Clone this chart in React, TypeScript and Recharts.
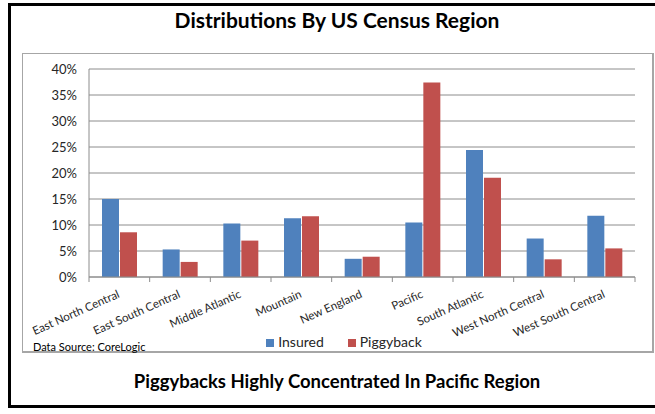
import React from "react";
import {
  BarChart,
  Bar,
  XAxis,
  YAxis,
  CartesianGrid,
  Legend,
} from "recharts";

const regions = [
  "East North Central",
  "East South Central",
  "Middle Atlantic",
  "Mountain",
  "New England",
  "Pacific",
  "South Atlantic",
  "West North Central",
  "West South Central",
];
const insured = [15.0, 5.3, 10.3, 11.3, 3.5, 10.5, 24.4, 7.4, 11.8];
const piggyback = [8.6, 2.9, 7.0, 11.7, 3.9, 37.4, 19.1, 3.4, 5.5];
const yTicks = [0, 5, 10, 15, 20, 25, 30, 35, 40];

const data = regions.map((region, i) => ({
  region,
  Insured: insured[i],
  Piggyback: piggyback[i],
}));

const FONT = "Lato, 'Open Sans', sans-serif";

function RegionTick(props: any) {
  const { x, y, payload, index, visibleTicksCount } = props;
  const half = payload && payload.offset ? payload.offset : 30.3;
  return (
    <g>
      <line x1={x - half} y1={y} x2={x - half} y2={y + 5} stroke="#8c8c8c" />
      {index === visibleTicksCount - 1 && (
        <line x1={x + half} y1={y} x2={x + half} y2={y + 5} stroke="#8c8c8c" />
      )}
      <g transform={`translate(${x + 1},${y + 20})`}>
        <text
          x={0}
          y={0}
          textAnchor="end"
          fill="#262626"
          fontSize={11.5}
          fontFamily={FONT}
          transform="rotate(-24)"
        >
          {payload.value}
        </text>
      </g>
    </g>
  );
}

export default function App() {
  return (
    <div
      style={{
        position: "absolute",
        left: 0,
        top: 0,
        width: 655,
        height: 414,
        overflow: "hidden",
        background: "#fff",
        fontFamily: FONT,
      }}
    >
      <div
        style={{
          position: "absolute",
          left: 8,
          top: 3,
          width: 680,
          height: 405,
          boxSizing: "border-box",
          border: "3px solid #000",
        }}
      />
      <div
        style={{
          position: "absolute",
          left: 8,
          width: 658,
          top: 7,
          textAlign: "center",
          fontWeight: 700,
          fontSize: 21,
          color: "#000",
        }}
      >
        Distributions By US Census Region
      </div>
      <div
        style={{
          position: "absolute",
          left: 22,
          top: 53,
          width: 632,
          height: 300,
          boxSizing: "border-box",
          border: "1px solid #a6a6a6",
          borderRightWidth: 2,
          borderBottomWidth: 2,
        }}
      >
        <BarChart
          width={630}
          height={298}
          data={data}
          margin={{ top: 15, right: 18, left: 0, bottom: 0 }}
          barSize={17}
          barGap={1}
        >
          <CartesianGrid vertical={false} stroke="#8c8c8c" />
          <XAxis
            dataKey="region"
            height={75}
            interval={0}
            tickLine={false}
            tickSize={0}
            tickMargin={0}
            stroke="#8c8c8c"
            tick={<RegionTick />}
          />
          <YAxis
            width={66}
            domain={[0, 40]}
            ticks={yTicks}
            tickFormatter={(v) => `${v}%`}
            tickLine={false}
            tickSize={0}
            tickMargin={12}
            stroke="#8c8c8c"
            tick={{ fill: "#262626", fontSize: 13, fontFamily: FONT }}
          />
          <Legend
            layout="horizontal"
            verticalAlign="middle"
            align="center"
            iconType="square"
            iconSize={8}
            wrapperStyle={{ top: 277, left: 18, width: 630 }}
            formatter={(value) => (
              <span
                style={{
                  color: "#262626",
                  fontSize: 14,
                  fontFamily: FONT,
                  marginRight: 14,
                }}
              >
                {value}
              </span>
            )}
          />
          <Bar dataKey="Insured" fill="#4f81bd" isAnimationActive={false} />
          <Bar dataKey="Piggyback" fill="#c0504d" isAnimationActive={false} />
        </BarChart>
        <div
          style={{
            position: "absolute",
            left: 10,
            top: 286,
            fontSize: 11,
            color: "#000",
          }}
        >
          Data Source: CoreLogic
        </div>
      </div>
      <div
        style={{
          position: "absolute",
          left: 8,
          width: 658,
          top: 370,
          textAlign: "center",
          fontWeight: 700,
          fontSize: 18.5,
          color: "#000",
        }}
      >
        Piggybacks Highly Concentrated In Pacific Region
      </div>
    </div>
  );
}
